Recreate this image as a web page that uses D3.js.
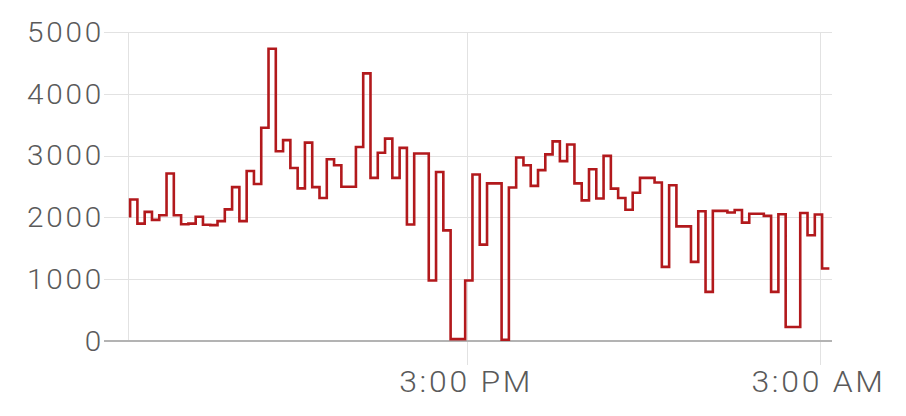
<!DOCTYPE html>
<html>
<head>
<meta charset="utf-8">
<script src="https://cdn.jsdelivr.net/npm/d3@7"></script>
<style>
  html, body { margin: 0; padding: 0; background: #fff; }
  svg { display: block; }
  text { font-family: Roboto, "Liberation Sans", sans-serif; font-weight: 300; fill: #5a5a5a; }
</style>
</head>
<body>
<svg width="906" height="416"></svg>
<script>
//chart data: one reading about every 15 minutes
var startTime = new Date(2024, 0, 1, 3, 31, 20);
var stepSeconds = 893;
var values = [
  2000, 2290, 1900, 2090, 1960, 2035, 2710, 2035, 1890, 1900,
  2010, 1880, 1875, 1940, 2130, 2490, 1940, 2750, 2540, 3450,
  4730, 3070, 3250, 2800, 2470, 3210, 2490, 2315, 2940, 2845,
  2495, 2495, 3140, 4330, 2640, 3045, 3275, 2640, 3125, 1885,
  3035, 3035, 980, 2735, 1790, 30, 30, 980, 2695, 1560,
  2550, 2550, 20, 2485, 2970, 2845, 2510, 2765, 3020, 3230,
  2910, 3180, 2550, 2275, 2780, 2305, 2995, 2465, 2315, 2125,
  2400, 2640, 2640, 2565, 1200, 2520, 1855, 1855, 1280, 2100,
  795, 2105, 2105, 2080, 2120, 1915, 2060, 2060, 2025, 795,
  2050, 227, 227, 2072, 1711, 2046, 1172
];

//axis settings
var yTicks = [0, 1000, 2000, 3000, 4000, 5000];
var xTickTimes = [new Date(2024, 0, 1, 15, 0), new Date(2024, 0, 2, 3, 0)];
var xTickLabels = ['3:00 PM', '3:00 AM'];
var xDomain = [new Date(2024, 0, 1, 3, 27), new Date(2024, 0, 2, 3, 25, 30)];

//labels are drawn a bit wide, like the original
var stretch = 1.1;

var board = d3.select('svg');

var points = values.map((v, i) => ({
  t: new Date(startTime.getTime() + i * stepSeconds * 1000),
  v: v
}));

var x = d3.scaleTime().domain(xDomain).range([128, 832]);
var y = d3.scaleLinear().domain([0, 5000]).range([341, 32]);

//horizontal gridlines, running out left as ticks
board.append('g')
  .selectAll('line')
  .data(yTicks.filter(d => d > 0))
  .enter().append('line')
    .attr('x1', 104)
    .attr('x2', x.range()[1])
    .attr('y1', d => Math.round(y(d)) + 0.5)
    .attr('y2', d => Math.round(y(d)) + 0.5)
    .attr('stroke', '#e2e2e2');

// left edge line
board.append('line')
  .attr('x1', 128.5).attr('x2', 128.5)
  .attr('y1', y(5000)).attr('y2', y(0))
  .attr('stroke', '#e2e2e2');

//vertical gridlines, running out below as ticks
board.append('g')
  .selectAll('line')
  .data(xTickTimes)
  .enter().append('line')
    .attr('x1', d => Math.round(x(d)) + 0.5)
    .attr('x2', d => Math.round(x(d)) + 0.5)
    .attr('y1', y(5000))
    .attr('y2', 365)
    .attr('stroke', '#e2e2e2');

//zero line
board.append('line')
  .attr('x1', 104).attr('x2', x.range()[1])
  .attr('y1', y(0)).attr('y2', y(0))
  .attr('stroke', '#b3b3b3')
  .attr('stroke-width', 2);

//y labels
board.append('g')
  .selectAll('text')
  .data(yTicks)
  .enter().append('text')
    .attr('transform', d => 'translate(104,' + y(d) + ') scale(' + stretch + ',1)')
    .attr('dy', '0.36em')
    .attr('text-anchor', 'end')
    .attr('font-size', 27)
    .attr('letter-spacing', 2.5)
    .text(d => d);

//x labels
board.append('g')
  .selectAll('text')
  .data(xTickTimes)
  .enter().append('text')
    .attr('transform', d => 'translate(' + (x(d) - 1) + ',392) scale(' + stretch + ',1)')
    .attr('text-anchor', 'middle')
    .attr('font-size', 29)
    .attr('letter-spacing', 2.5)
    .text((d, i) => xTickLabels[i]);

//the stepped line
var line = d3.line()
  .x(d => x(d.t))
  .y(d => y(d.v))
  .curve(d3.curveStepBefore);

board.append('path')
  .datum(points)
  .attr('d', line)
  .attr('fill', 'none')
  .attr('stroke', '#b2191c')
  .attr('stroke-width', 2.6);
</script>
</body>
</html>
